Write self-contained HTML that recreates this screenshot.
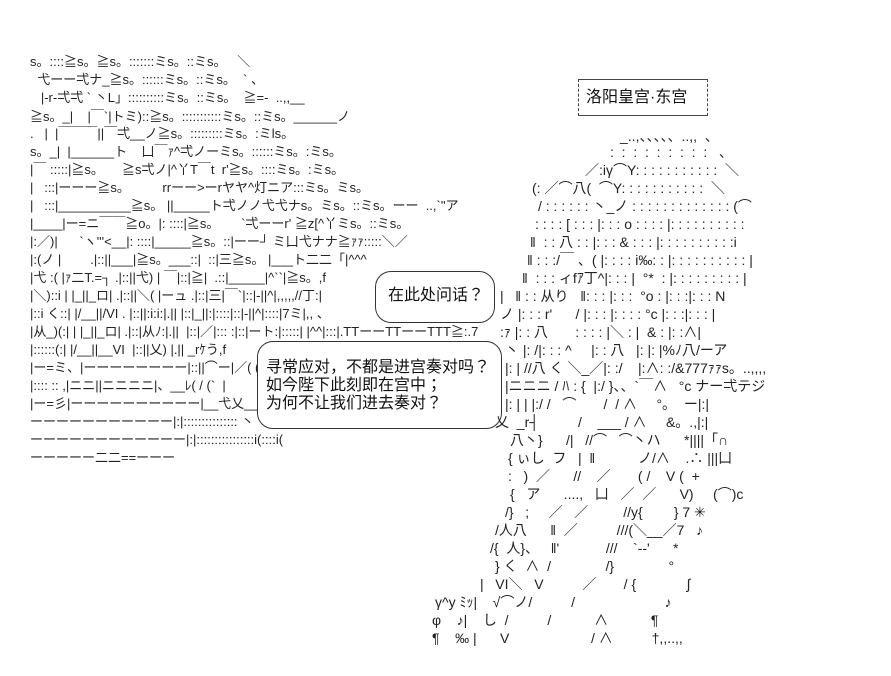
<!DOCTYPE html>
<html><head><meta charset="utf-8"><style>
html,body{margin:0;padding:0;background:#fff;}
body{width:891px;height:676px;position:relative;overflow:hidden;font-family:"Liberation Sans","Noto Sans CJK JP",sans-serif;font-size:14px;color:#222;}
.r{position:absolute;white-space:pre;line-height:18px;height:18px;}
.l{font-size:13px;}
.b{position:absolute;border:1px solid #333;border-radius:16px;background:#fff;}
.t{position:absolute;white-space:pre;font-size:16px;line-height:18px;color:#111;}
</style></head><body>
<div class="r l" style="left:30px;top:53px">s。::::≧s。≧s。:::::::ミs。::ミs。   ＼</div>
<div class="r l" style="left:30px;top:71px">  弋ーー弌ナ_≧s。::::::ミs。::ミs。  ` 、</div>
<div class="r l" style="left:30px;top:89px">   |-r-弌弌 ` 丶L」::::::::::ミs。::ミs。  ≧=-  ..,,__</div>
<div class="r l" style="left:30px;top:108px">≧s。_|    |￣`|トミ)::≧s。:::::::::::ミs。::ミs。______ノ</div>
<div class="r l" style="left:30px;top:125px">.   |  |￣￣￣||￣弌__ノ≧s。:::::::::ミs。:ミls。</div>
<div class="r l" style="left:30px;top:143px">s。_|  |______ト    凵￣ｧ^弌ノーミs。::::::ミs。:ミs。</div>
<div class="r l" style="left:30px;top:161px">|￣ :::::|≧s。     ≧s弌ノ|^丫T￣t  r'≧s。::::ミs。:ミs。</div>
<div class="r l" style="left:30px;top:179px">|   :::|ーーー≧s。         rrーー>ーrヤヤ^灯ニア:::ミs。ミs。</div>
<div class="r l" style="left:30px;top:197px">|   :::|__________≧s。 ||_____ト弌ノノ弋弋ナs。ミs。::ミs。ーー  ..,`"ア</div>
<div class="r l" style="left:30px;top:215px">|____|ー=ニ￣￣≧o。|: ::::|≧s。      `弌ーーr' ≧z[^丫ミs。::ミs。</div>
<div class="r l" style="left:30px;top:233px">|:／)|      `ヽ'''&lt;__|: ::::|_____≧s。::|ーー┘ ミ凵弋ナナ≧ｧｧ:::::＼／</div>
<div class="r l" style="left:30px;top:251px">|:(ノ |        .|::||___|≧s。___::|  ::|三≧s。 |___ト二二「|^^^</div>
<div class="r l" style="left:30px;top:269px">|弋 :( |ｧ二T.=┐ .|::||弋) | ￣|::|≧|  .::|_____|^``|≧s。,f</div>
<div class="r l" style="left:30px;top:287px">|＼)::i | |_||_ロ| .|::||＼( |ーュ .|::|三|￣`|::|-||^|,,,,,//丁:|</div>
<div class="r l" style="left:30px;top:305px">|::i く::| |/__||/VI . |::||:i:i:|.|| |::|_||:|::::|::|-||^|::::|7ミ|,, 、</div>
<div class="r l" style="left:30px;top:323px">|从_)(:| | |_||_ロ| .|::|从ﾉ:|.||  |::|／|::: :|::|ート:|:::::| |^^|:::|.TTーーTTーーTTT≧:.7</div>
<div class="r l" style="left:30px;top:341px">|::::::(:| |/__||__VI  |::||乂) |.|| _rｹう,f</div>
<div class="r l" style="left:30px;top:359px">|ー=ミ、|ーーーーーーーー|::||⌒ー|／( (°_r|</div>
<div class="r l" style="left:30px;top:377px">|:::: :: ,|ニニ||ニニニニ|、__ﾚ( / (`  |</div>
<div class="r l" style="left:30px;top:395px">|ー=彡|ーーーーーーーーーー|__弋乂__ &gt; _|</div>
<div class="r l" style="left:30px;top:413px">ーーーーーーーーーーー|:|::::::::::::::: 丶</div>
<div class="r l" style="left:30px;top:431px">ーーーーーーーーーーーー|:|::::::::::::::::i(::::i(</div>
<div class="r l" style="left:30px;top:449px">ーーーーー二二==ーーー</div>

<div class="b" style="left:375px;top:271px;width:118px;height:50px"></div>
<div class="t" style="left:388px;top:287px">在此处问话？</div>
<div class="b" style="left:257px;top:341px;width:243px;height:86px"></div>
<div class="t" style="left:266px;top:359px">寻常应对，不都是进宫奏对吗？</div>
<div class="t" style="left:266px;top:377px">如今陛下此刻即在宫中；</div>
<div class="t" style="left:266px;top:395px">为何不让我们进去奏对？</div>

<div style="position:absolute;left:578px;top:79px;width:128px;height:35px;border:1px dashed #444;border-top:1px solid #444;border-bottom:1px solid #444"></div>
<div class="t" style="left:586px;top:89px">洛阳皇宫·东宫</div>

<div class="r" style="left:620px;top:127px">_..,、、、、、..,,  、</div>
<div class="r" style="left:610px;top:143px">:  :  :  :  :  :  :  :  :   、</div>
<div class="r" style="left:585px;top:161px">／:iγ⌒Y: : : : : : : : : : :  ＼</div>
<div class="r" style="left:532px;top:179px">(: ／⌒八(  ⌒Y: : : : : : : : : : :  ＼</div>
<div class="r" style="left:538px;top:197px">/ : : : : : : 丶_ノ : : : : : : : : : : : : : (⌒</div>
<div class="r" style="left:535px;top:215px">: : : : [ : : : |: : : o : : : : |: : : : : : : : : :</div>
<div class="r" style="left:530px;top:233px">‖  : : 八 : : |: : : & : : : |: : : : : : : : : :i</div>
<div class="r" style="left:527px;top:251px">‖ : : :/￣ 、( |: : : : i‰: : |: : : : : : : : : : |</div>
<div class="r" style="left:522px;top:269px">‖  : : : ィfｱ丁^|: : : |  °*  : |: : : : : : : : : |</div>
<div class="r" style="left:500px;top:287px">|   ‖ : : 从り   ‖: : : |: : :  °o : |: : :|: : : N</div>
<div class="r" style="left:500px;top:305px">ノ |: : : r'      / |: : : |: : : : °c |: : :|: : : |</div>
<div class="r" style="left:500px;top:323px">:ｧ |: : 八       : : : : |＼ : |  & : |: :∧|</div>
<div class="r" style="left:505px;top:341px">丶 |: /|: : : ^     |: : 八   |: |: |%ﾉ八/ーア</div>
<div class="r" style="left:505px;top:359px">|: | //八 く ＼_／|: :/    |:∧: :/&777ｧｧs。..,,,,</div>
<div class="r" style="left:505px;top:377px">|ニニニ / ﾊ : {  |:/ }、、`￣∧   °c ナー弌テジ</div>
<div class="r" style="left:505px;top:395px">|: | | |:/ /   ⌒       /  / ∧     °。  ー|:|</div>
<div class="r" style="left:495px;top:413px">乂  _r┤          /    ___ / ∧     &。.,|:|</div>
<div class="r" style="left:510px;top:431px">八丶}      /|   //⌒   ⌒丶ハ      *||||「∩</div>
<div class="r" style="left:508px;top:449px">{ ぃし  フ   |  ‖           ノ/∧    .∴ |||凵</div>
<div class="r" style="left:508px;top:467px">:   )  ／      //    ／       ( /    V (  +</div>
<div class="r" style="left:510px;top:485px">{   ア      ....,   凵   ／  ／      V)     (⌒)c</div>
<div class="r" style="left:505px;top:503px">/}   ;     ／   ／         //y{        } 7 ✳</div>
<div class="r" style="left:495px;top:521px">/人八      ‖  ／          ///(＼__／7   ♪</div>
<div class="r" style="left:490px;top:539px">/{  人}、   ‖'            ///    `‐‐'      *</div>
<div class="r" style="left:495px;top:557px">} く  ∧  /              /}              °</div>
<div class="r" style="left:480px;top:575px">|   VI＼   V          ／       / {             ∫</div>
<div class="r" style="left:435px;top:593px">γ^y ﾐｯ|    √⌒ノ/          /                       ♪</div>
<div class="r" style="left:432px;top:611px">φ    ♪|    し  /          /           ∧           ¶</div>
<div class="r" style="left:432px;top:629px">¶    ‰ |      V                     / ∧          †,,..,,</div>
</body></html>
